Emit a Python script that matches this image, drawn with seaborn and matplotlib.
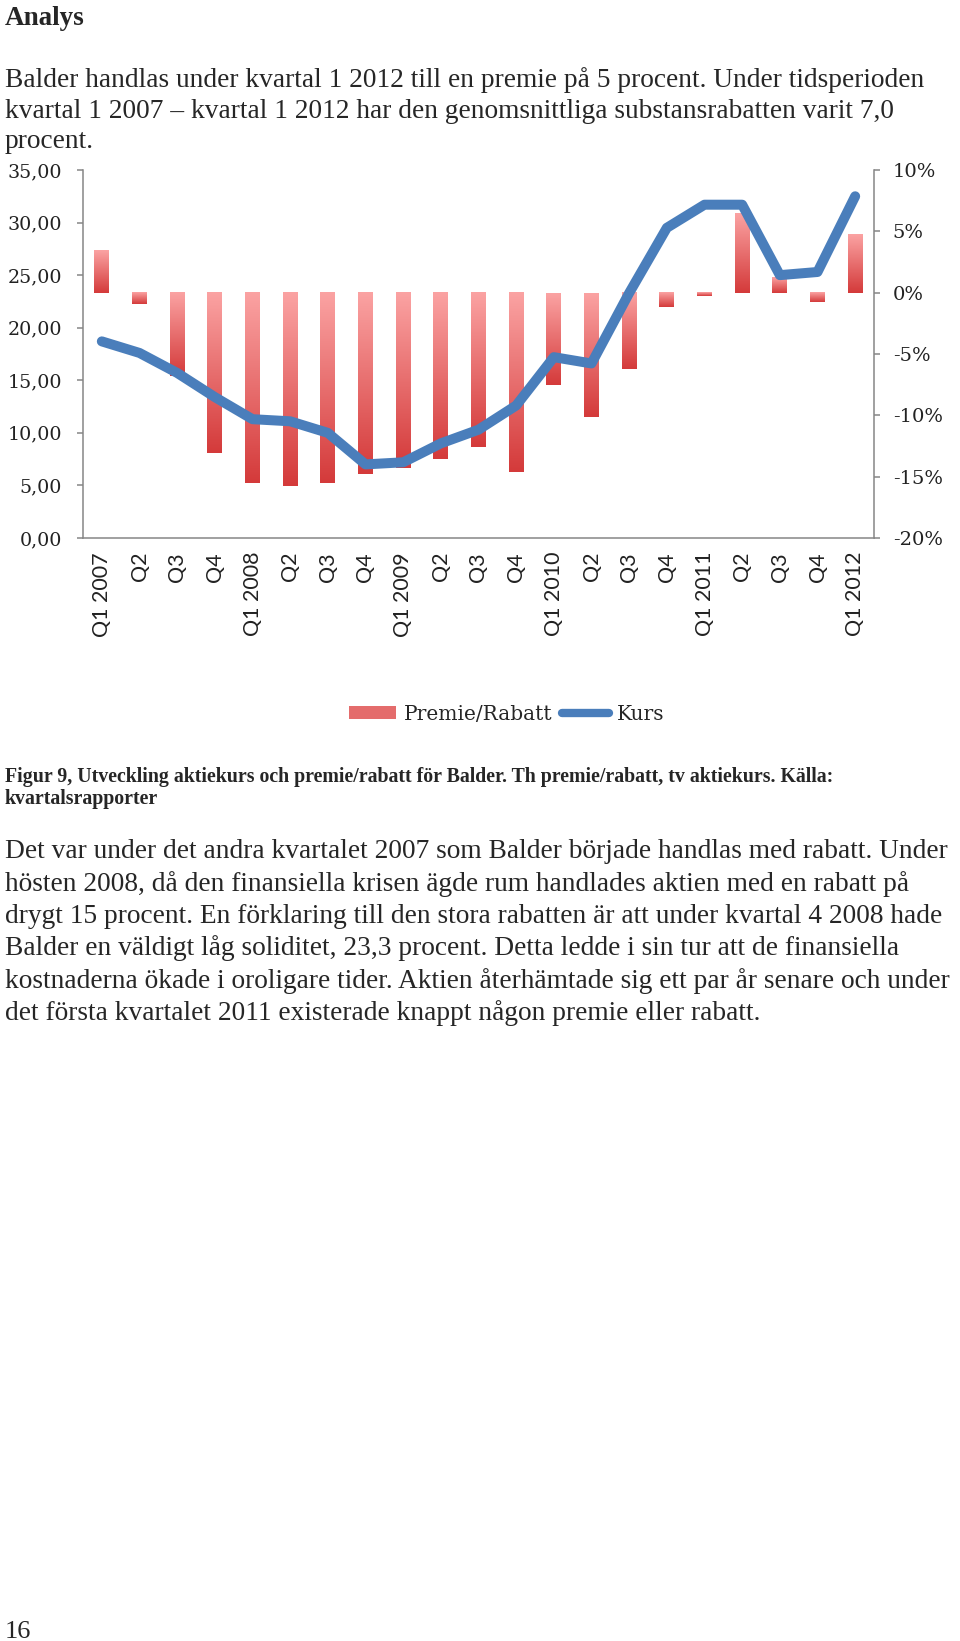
import numpy as np
import pandas as pd
import matplotlib
matplotlib.use("Agg")
import matplotlib.pyplot as plt
from matplotlib.colors import LinearSegmentedColormap
from matplotlib.patches import Patch
from matplotlib.lines import Line2D
import seaborn as sns

# --- data ---
quarters = ["Q1 2007", "Q2", "Q3", "Q4",
            "Q1 2008", "Q2", "Q3", "Q4",
            "Q1 2009", "Q2", "Q3", "Q4",
            "Q1 2010", "Q2", "Q3", "Q4",
            "Q1 2011", "Q2", "Q3", "Q4",
            "Q1 2012"]
premie = [3.5, -0.9, -6.8, -13.1, -15.5, -15.8, -15.5, -14.8, -14.3, -13.6, -12.6,
          -14.6, -7.5, -10.1, -6.2, -1.2, -0.3, 6.5, 1.3, -0.8, 4.8]
kurs = [18.7, 17.6, 15.7, 13.4, 11.3, 11.1, 10.0, 7.0, 7.2, 9.0, 10.3,
        12.6, 17.2, 16.6, 23.3, 29.5, 31.7, 31.7, 25.0, 25.3, 32.5]
left_ticks = [0, 5, 10, 15, 20, 25, 30, 35]
right_ticks = [-20, -15, -10, -5, 0, 5, 10]

title = "Analys"
intro = ["Balder handlas under kvartal 1 2012 till en premie på 5 procent. Under tidsperioden",
         "kvartal 1 2007 \u2013 kvartal 1 2012 har den genomsnittliga substansrabatten varit 7,0",
         "procent."]
caption = ["Figur 9, Utveckling aktiekurs och premie/rabatt för Balder. Th premie/rabatt, tv aktiekurs. Källa:",
           "kvartalsrapporter"]
body = ["Det var under det andra kvartalet 2007 som Balder började handlas med rabatt. Under",
        "hösten 2008, då den finansiella krisen ägde rum handlades aktien med en rabatt på",
        "drygt 15 procent. En förklaring till den stora rabatten är att under kvartal 4 2008 hade",
        "Balder en väldigt låg soliditet, 23,3 procent. Detta ledde i sin tur att de finansiella",
        "kostnaderna ökade i oroligare tider. Aktien återhämtade sig ett par år senare och under",
        "det första kvartalet 2011 existerade knappt någon premie eller rabatt."]

df = pd.DataFrame({"pos": range(len(quarters)), "Premie": premie, "Kurs": kurs})

sns.set_style("white")
plt.rcParams["font.family"] = ["Liberation Serif", "DejaVu Serif"]

W, H = 960, 1641
fig = plt.figure(figsize=(W / 100, H / 100), dpi=100)


def fy(px):
    return 1 - px / H


grey = "#868686"
blue = "#4A7EBB"

ax = fig.add_axes([83 / W, fy(538), 791 / W, 368 / H])
axr = ax.twinx()
ax.set_zorder(2)
ax.patch.set_visible(False)
axr.set_zorder(1)

# bars (premie/rabatt, right axis)
sns.barplot(data=df, x="pos", y="Premie", ax=axr, width=0.39, color="#E46C6C",
            saturation=1, errorbar=None)
cmap = LinearSegmentedColormap.from_list("red", ["#FBA3A3", "#D43A3A"])
grad = np.linspace(0, 1, 256).reshape(-1, 1)
for bar in list(axr.patches):
    x0, y0 = bar.get_x(), bar.get_y()
    w, h = bar.get_width(), bar.get_height()
    lo, hi = min(y0, y0 + h), max(y0, y0 + h)
    axr.imshow(grad, cmap=cmap, extent=[x0, x0 + w, lo, hi], aspect="auto",
               origin="upper", zorder=2)
    bar.set_visible(False)

# line (kurs, left axis)
sns.lineplot(data=df, x="pos", y="Kurs", ax=ax, color=blue, lw=7.2, sort=False)
for ln in ax.lines:
    ln.set_solid_capstyle("round")
    ln.set_solid_joinstyle("round")

n = len(quarters)
ax.set_xlim(-0.5, n - 0.5)
ax.set_ylim(0, 35)
axr.set_ylim(-20, 10)

ax.set_yticks(left_ticks)
ax.set_yticklabels([f"{v:.2f}".replace(".", ",") for v in left_ticks],
                   family="DejaVu Serif", fontsize=13.7, color="#222222")
axr.set_yticks(right_ticks)
axr.set_yticklabels([f"{v}%" for v in right_ticks],
                    family="DejaVu Serif", fontsize=14, color="#222222")

ax.set_xticks(range(n))
ax.set_xticklabels(quarters, rotation=90, family="Lato", fontsize=15.5, color="#222222")
ax.set_xticks(np.arange(-0.5, n, 1), minor=True)
ax.tick_params(axis="x", which="major", length=0, pad=10)
ax.tick_params(axis="x", which="minor", length=4.5, width=1.1, color=grey, direction="out")
ax.tick_params(axis="y", length=4.5, width=1.1, color=grey, direction="out", pad=10.5)
axr.tick_params(axis="y", length=4.5, width=1.1, color=grey, direction="out", pad=9)
ax.set_xlabel("")
ax.set_ylabel("")
axr.set_xlabel("")
axr.set_ylabel("")

for s in ["top", "right"]:
    ax.spines[s].set_visible(False)
for s in ["top", "left", "bottom"]:
    axr.spines[s].set_visible(False)
ax.spines["left"].set_color(grey)
ax.spines["bottom"].set_color(grey)
axr.spines["right"].set_color(grey)
for sp in [ax.spines["left"], ax.spines["bottom"], axr.spines["right"]]:
    sp.set_linewidth(1.1)

handles = [Patch(facecolor="#E46C6C", edgecolor="none"),
           Line2D([], [], color=blue, lw=6, solid_capstyle="round")]
fig.legend(handles, ["Premie/Rabatt", "Kurs"], loc="center",
           bbox_to_anchor=(0.528, fy(714)), ncol=2, frameon=False,
           prop=dict(family="DejaVu Serif", size=14.5), handlelength=2.3,
           handleheight=0.6, handletextpad=0.4, columnspacing=0.5)

# page text
fig.text(5 / W, fy(25), title, fontsize=19.5, fontweight="bold", va="baseline")
for i, line in enumerate(intro):
    fig.text(5 / W, fy(87 + 30.5 * i), line, fontsize=19.7, va="baseline")
for i, line in enumerate(caption):
    fig.text(5 / W, fy(782 + 22 * i), line, fontsize=14.3, fontweight="bold", va="baseline")
for i, line in enumerate(body):
    fig.text(5 / W, fy(858.5 + 32.3 * i), line, fontsize=19.7, va="baseline")
fig.text(5 / W, fy(1638), "16", fontsize=19, va="baseline")

fig.savefig("out.png", dpi=100)
